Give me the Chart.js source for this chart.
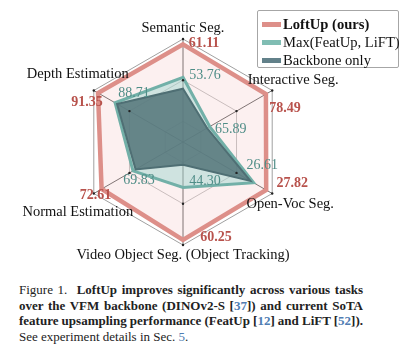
<!DOCTYPE html>
<html>
<head>
<meta charset="utf-8">
<script src="https://cdn.jsdelivr.net/npm/chart.js@4"></script>
<style>
  html, body { margin: 0; padding: 0; background: #fff; }
  body { width: 405px; height: 356px; position: relative; overflow: hidden; font-family: 'Liberation Serif', 'DejaVu Serif', serif; }
  #c { position: absolute; left: 0; top: 0; }
  #legend { position: absolute; left: 257px; top: 10px; width: 142px; height: 58px; border: 1px solid #a6a6a6; border-radius: 2px; background: rgba(255,255,255,0.9); box-sizing: border-box; }
  .row { position: absolute; left: 0; height: 18px; font-size: 14.6px; line-height: 18px; color: #111; white-space: nowrap; }
  .sw { position: absolute; left: 4px; top: 7px; width: 19px; height: 4.5px; }
  .tx { position: absolute; left: 25px; top: 0; }
  #cap { position: absolute; left: 19px; top: 282px; width: 344px; font-size: 13px; line-height: 15.5px; color: #222; }
  #cap .j { white-space: nowrap; }
  #cap .ref { color: #4f7db3; }
</style>
</head>
<body>
<canvas id="c" width="405" height="268"></canvas>
<div id="legend">
  <div class="row" style="top:4px"><div class="sw" style="background:#dd8f89"></div><div class="tx"><b>LoftUp (ours)</b></div></div>
  <div class="row" style="top:22px"><div class="sw" style="background:#80bdb3"></div><div class="tx">Max(FeatUp, LiFT)</div></div>
  <div class="row" style="top:40px"><div class="sw" style="background:#62818a"></div><div class="tx">Backbone only</div></div>
</div>
<div id="cap">
  <div class="j"><span class="in">Figure 1.&nbsp; <b>LoftUp improves significantly across various tasks</b></span></div>
  <div class="j"><span class="in"><b>over the VFM backbone (DINOv2-S [<span class="ref">37</span>]) and current SoTA</b></span></div>
  <div class="j"><span class="in"><b>feature upsampling performance (FeatUp [<span class="ref">12</span>] and LiFT [<span class="ref">52</span>]).</b></span></div>
  <div>See experiment details in Sec. <span class="ref">5</span>.</div>
</div>
<script>
// ---- data ----
const categories = ['Semantic Seg.', 'Interactive Seg.', 'Open-Voc Seg.', 'Video Object Seg. (Object Tracking)', 'Normal Estimation', 'Depth Estimation'];
const loftup   = [61.11, 78.49, 27.82, 60.25, 72.61, 91.35];
const maxPrior = [53.76, 65.89, 26.61, 44.30, 69.83, 88.71];
const backbone = [51.2, 65.3, 26.3, 37.4, 69.6, 88.4];   // unlabeled
const axisMin  = [39.3, 59.9, 19.8, 30.5, 65.4, 78.2];
const axisMax  = [62.3, 79.9, 28.4, 61.8, 73.3, 92.0];
const gridLevels = [0, 0.2, 0.6, 1.0];

// ---- layout (label offsets in px, relative to anchor points) ----
const axisLabelOffset = [[0,-11],[21,-10.5],[18,10.5],[0,10],[-16,18.5],[-16,-16.5]];
const loftLabelOffset = [[21,-1],[19,14],[26,-7],[33,-3],[-6,6],[-11,9]];
const maxLabelOffset  = [[22,-2],[21,2.5],[8.5,-17],[22,-6],[6,9],[19,-9]];

// justify caption lines to the column width
document.querySelectorAll('#cap .j').forEach(line => {
  const inner = line.querySelector('.in');
  const w = inner.getBoundingClientRect().width;
  const spaces = (inner.textContent.match(/[ \u00a0]/g) || []).length;
  if (spaces) inner.style.wordSpacing = ((344 - w) / spaces) + 'px';
});

const norm = arr => arr.map((v, i) => (v - axisMin[i]) / (axisMax[i] - axisMin[i]));

const labelPlugin = {
  id: 'labels',
  afterDatasetsDraw(chart) {
    const s = chart.scales.r;
    const ctx = chart.ctx;
    ctx.save();
    ctx.fillStyle = '#222';
    categories.forEach((_, i) => {
      [0.6, 1.0].forEach(v => {
        const p = s.getPointPosition(i, s.getDistanceFromCenterForValue(v));
        ctx.beginPath(); ctx.arc(p.x, p.y, 1.2, 0, Math.PI * 2); ctx.fill();
      });
    });
    ctx.textAlign = 'center';
    ctx.textBaseline = 'middle';
    ctx.font = '14.5px "Liberation Serif"';
    ctx.fillStyle = '#111';
    categories.forEach((c, i) => {
      const p = s.getPointPosition(i, s.getDistanceFromCenterForValue(1));
      ctx.fillText(c, p.x + axisLabelOffset[i][0], p.y + axisLabelOffset[i][1]);
    });
    const ln = norm(loftup);
    ctx.font = 'bold 14px "Liberation Serif"';
    ctx.fillStyle = '#b8524c';
    loftup.forEach((v, i) => {
      const p = s.getPointPosition(i, s.getDistanceFromCenterForValue(ln[i]));
      ctx.fillText(v.toFixed(2), p.x + loftLabelOffset[i][0], p.y + loftLabelOffset[i][1]);
    });
    const mn = norm(maxPrior);
    ctx.font = '14px "Liberation Serif"';
    ctx.fillStyle = '#4f8d87';
    maxPrior.forEach((v, i) => {
      const p = s.getPointPosition(i, s.getDistanceFromCenterForValue(mn[i]));
      ctx.fillText(v.toFixed(2), p.x + maxLabelOffset[i][0], p.y + maxLabelOffset[i][1]);
    });
    ctx.restore();
  }
};

new Chart(document.getElementById('c'), {
  type: 'radar',
  data: {
    labels: categories,
    datasets: [
      { label: 'LoftUp (ours)', data: norm(loftup), order: 3,
        borderColor: '#dd8f89', borderWidth: 4.5, backgroundColor: 'rgba(232,150,150,0.14)',
        pointRadius: 0, fill: true, borderJoinStyle: 'miter' },
      { label: 'Max(FeatUp, LiFT)', data: norm(maxPrior), order: 2,
        borderColor: '#72b0a8', borderWidth: 3, backgroundColor: 'rgba(150,210,205,0.45)',
        pointRadius: 0, fill: true, borderJoinStyle: 'miter' },
      { label: 'Backbone only', data: norm(backbone), order: 1,
        borderColor: '#4f6f74', borderWidth: 2, backgroundColor: 'rgba(86,119,124,0.88)',
        pointRadius: 0, fill: true, borderJoinStyle: 'miter' }
    ]
  },
  options: {
    responsive: false,
    animation: false,
    layout: { padding: { left: 80, right: 119, top: 39.5, bottom: 22.5 } },
    plugins: { legend: { display: false }, tooltip: { enabled: false } },
    scales: {
      r: {
        min: 0, max: 1,
        afterBuildTicks: sc => { sc.ticks = gridLevels.map(v => ({ value: v })); },
        ticks: { display: false },
        grid: { color: c => (c.tick && c.tick.value === 1) ? '#a0a0a0' : '#c4c4c4', lineWidth: 1 },
        angleLines: { color: '#4a4a4a', lineWidth: 0.8 },
        pointLabels: { display: false }
      }
    }
  },
  plugins: [labelPlugin]
});
</script>
</body>
</html>
